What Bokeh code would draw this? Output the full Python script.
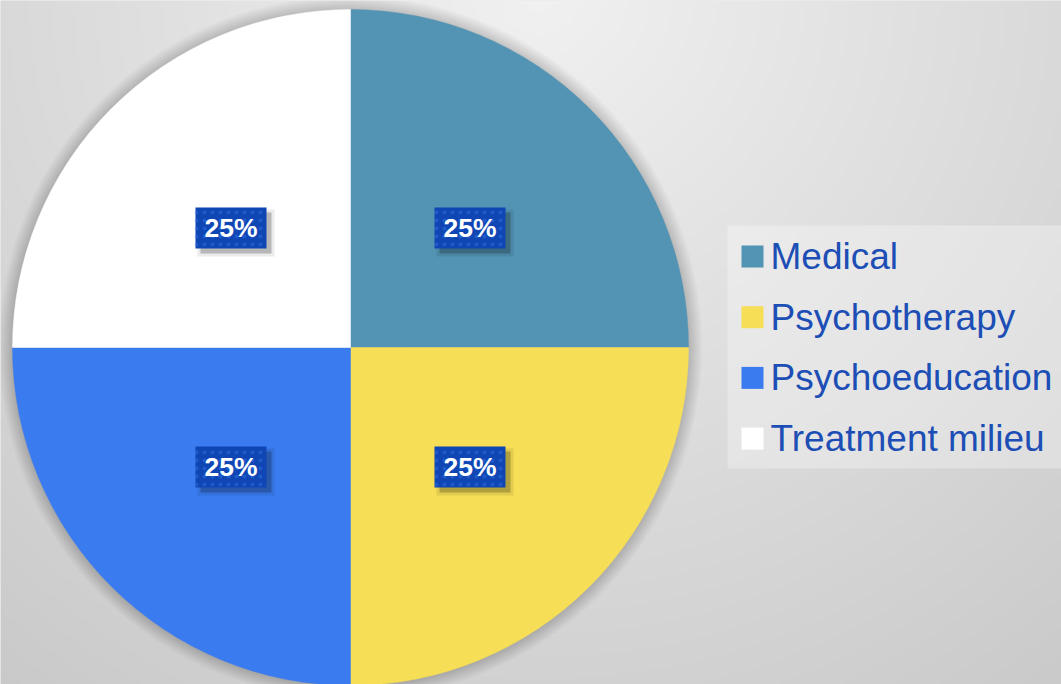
import numpy as np
from bokeh.plotting import figure
from bokeh.models import ColumnDataSource, Range1d
from bokeh.core.properties import value
from bokeh.embed import file_html
from bokeh.resources import INLINE

# ---- data ----
categories = ["Medical", "Psychotherapy", "Psychoeducation", "Treatment milieu"]
values = [25, 25, 25, 25]
colors = ["#5393b3", "#f6de56", "#3a7bef", "#ffffff"]

# ---- layout ----
W, H = 1061, 684
p = figure(width=W, height=H, x_range=Range1d(0, W), y_range=Range1d(0, H),
           output_backend="svg", toolbar_location=None,
           x_axis_location=None, y_axis_location=None,
           min_border=0, outline_line_color=None)
p.grid.visible = False
p.background_fill_color = "#dcdcdc"
p.border_fill_color = "#dcdcdc"

# background radial gradient (styling)
ny, nx = 171, 265
xs = (np.arange(nx) + 0.5) * W / nx
ys_data = (np.arange(ny) + 0.5) * H / ny
ys_ref = H - ys_data
X, Y = np.meshgrid(xs, ys_ref)
d = np.hypot(X - 540, Y + 10)
g = np.clip(241 - 0.045 * d, 190, 245).astype(np.uint8)
img = np.empty((ny, nx), dtype=np.uint32)
view = img.view(dtype=np.uint8).reshape((ny, nx, 4))
view[..., 0] = g
view[..., 1] = g
view[..., 2] = g
view[..., 3] = 255
p.image_rgba(image=[img], x=0, y=0, dw=W, dh=H)

# pie geometry
cx, cy, R = 350, 337, 338
total = float(sum(values))
cum = np.cumsum([0] + values) / total * 2 * np.pi
start = np.pi / 2 - cum[1:]
end = np.pi / 2 - cum[:-1]
mid = (start + end) / 2
lx = cx + 0.5 * R * np.cos(mid)
ly = cy + 0.5 * R * np.sin(mid)
labels = [f"{v / total * 100:.0f}%" for v in values]

src = ColumnDataSource(dict(cat=categories, val=values, color=colors,
                            start=start, end=end, lx=lx, ly=ly,
                            lx_s=lx + 5, ly_s=ly - 5, label=labels,
                            leg_y=[428 - i * 60.7 for i in range(len(categories))]))

# soft shadow around pie
for k in range(1, 15):
    p.circle(x=cx, y=cy, radius=R + k, fill_color="black", fill_alpha=0.012,
             line_color=None)

p.wedge(x=cx, y=cy, radius=R, start_angle="start", end_angle="end",
        fill_color="color", line_color="color", line_width=0.5, source=src)

# data labels
p.rect(x="lx_s", y="ly_s", width=77, height=47, fill_color="black", fill_alpha=0.08,
       line_color=None, source=src)
p.rect(x="lx_s", y="ly_s", width=71, height=41, fill_color="black", fill_alpha=0.22,
       line_color=None, source=src)
p.rect(x="lx", y="ly", width=71, height=41, fill_color="#0f46b4", line_color=None,
       hatch_pattern="dot", hatch_color="#2a67d8", hatch_scale=8, hatch_weight=2,
       hatch_alpha=0.6, source=src)
p.text(x="lx", y="ly", text="label", text_align="center", text_baseline="middle",
       text_color="white", text_font=value("Liberation Sans"), text_font_style="bold",
       text_font_size="26.5px", source=src)

# legend
p.quad(left=727, right=W, top=459, bottom=216, fill_color="white", fill_alpha=0.3,
       line_color=None)
p.rect(x=752, y="leg_y", width=22, height=22, fill_color="color", line_color=None,
       source=src)
p.text(x=770, y="leg_y", text="cat", text_align="left", text_baseline="middle",
       text_color="#1c4eb5", text_font=value("Liberation Sans"),
       text_font_size="37px", source=src)

open("out.html", "w").write(file_html(p, INLINE))
